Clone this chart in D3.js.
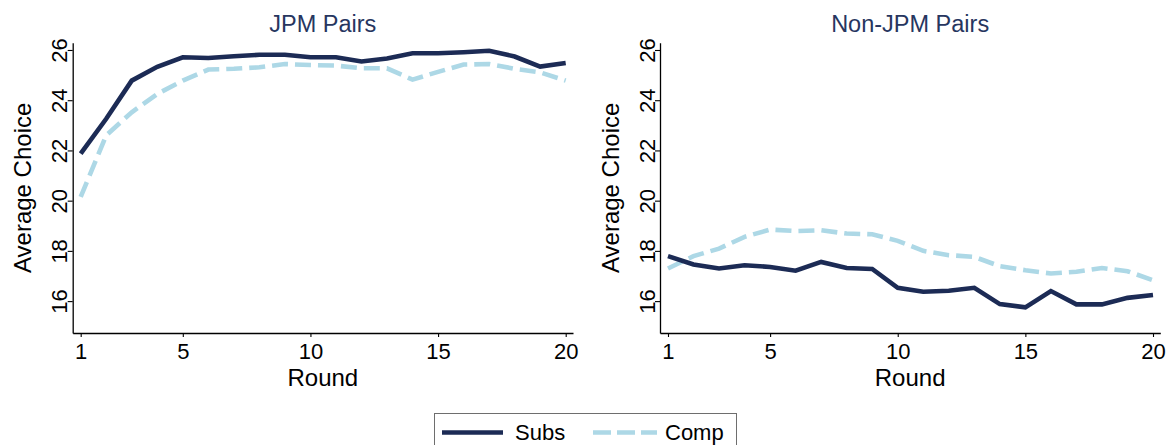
<!DOCTYPE html>
<html>
<head>
<meta charset="utf-8">
<script src="https://cdn.jsdelivr.net/npm/d3@7"></script>
<style>
  html, body { margin: 0; padding: 0; background: #fff; }
  svg { display: block; font-family: "Liberation Sans", Arial, sans-serif; }
</style>
</head>
<body>
<svg id="chart" width="1168" height="445"></svg>
<script>
const rounds = d3.range(1, 21);
const panelTitles = ["JPM Pairs", "Non-JPM Pairs"];
const seriesNames = ["Subs", "Comp"];
const xTicks = [1, 5, 10, 15, 20];
const yTicks = [16, 18, 20, 22, 24, 26];

const jpmSubs = [21.87, 23.26, 24.78, 25.33, 25.71, 25.68, 25.75, 25.81, 25.81, 25.71,
                 25.71, 25.54, 25.66, 25.87, 25.87, 25.91, 25.97, 25.74, 25.34, 25.48];
const jpmComp = [20.15, 22.60, 23.52, 24.25, 24.78, 25.22, 25.25, 25.31, 25.44, 25.40,
                 25.38, 25.27, 25.27, 24.82, 25.13, 25.42, 25.44, 25.25, 25.11, 24.78];
const nonSubs = [17.79, 17.46, 17.30, 17.43, 17.36, 17.21, 17.56, 17.32, 17.28, 16.53,
                 16.37, 16.41, 16.53, 15.88, 15.75, 16.40, 15.87, 15.87, 16.13, 16.24];
const nonComp = [17.30, 17.79, 18.09, 18.56, 18.85, 18.79, 18.82, 18.69, 18.66, 18.40,
                 18.00, 17.83, 17.76, 17.39, 17.23, 17.10, 17.17, 17.32, 17.19, 16.83];

const panels = [
  { title: panelTitles[0], subs: jpmSubs, comp: jpmComp, x0: 72.7 },
  { title: panelTitles[1], subs: nonSubs, comp: nonComp, x0: 660 }
];

const navy = "#1c2b55";
const light = "#add8e6";
const titleColor = "#27365f";
const lw = 4.6;
const dash = "16,7";
const tickFont = 22;

const svg = d3.select("#chart");
const plotW = 500.3, plotTop = 42.7, plotBottom = 333;

const y = d3.scaleLinear().domain([14.73, 26.29]).range([plotBottom, plotTop]);

panels.forEach(p => {
  const x = d3.scaleLinear().domain([0.687, 20.286]).range([p.x0, p.x0 + plotW]);
  const g = svg.append("g");

  // y axis
  const ya = g.append("g").attr("transform", `translate(${p.x0},0)`)
    .call(d3.axisLeft(y).tickValues(yTicks).tickSize(5).tickSizeOuter(0).tickFormat(d3.format("d")));
  ya.select(".domain").attr("stroke", "#000").attr("stroke-width", 1.3);
  ya.selectAll(".tick line").attr("stroke", "#000").attr("stroke-width", 1.1);
  ya.selectAll(".tick text")
    .attr("transform", "rotate(-90)")
    .attr("x", 0).attr("y", -5.5).attr("dy", 0)
    .attr("text-anchor", "middle")
    .attr("font-size", tickFont).attr("fill", "#000")
    .style("font-family", "'Liberation Sans', Arial, sans-serif");

  // x axis
  const xa = g.append("g").attr("transform", `translate(0,${plotBottom})`)
    .call(d3.axisBottom(x).tickValues(xTicks).tickSize(4).tickSizeOuter(0).tickFormat(d3.format("d")));
  xa.select(".domain").attr("stroke", "#000").attr("stroke-width", 1.3);
  xa.selectAll(".tick line").attr("stroke", "#000").attr("stroke-width", 1.1);
  xa.selectAll(".tick text")
    .attr("y", 25.5).attr("dy", 0)
    .attr("font-size", tickFont).attr("fill", "#000")
    .style("font-family", "'Liberation Sans', Arial, sans-serif");

  // axis titles
  g.append("text")
    .attr("transform", `translate(${p.x0 - 41.5},${(plotTop + plotBottom) / 2}) rotate(-90)`)
    .attr("text-anchor", "middle")
    .attr("font-size", 24).attr("fill", "#000")
    .text("Average Choice");
  g.append("text")
    .attr("x", p.x0 + plotW / 2).attr("y", 386)
    .attr("text-anchor", "middle")
    .attr("font-size", 24).attr("fill", "#000")
    .text("Round");

  // panel title
  g.append("text")
    .attr("x", p.x0 + plotW / 2).attr("y", 32)
    .attr("text-anchor", "middle")
    .attr("font-size", 23.5).attr("fill", titleColor)
    .text(p.title);

  const line = d3.line().x((d, i) => x(rounds[i])).y(d => y(d));

  g.append("path").datum(p.comp)
    .attr("d", line).attr("fill", "none")
    .attr("stroke", light).attr("stroke-width", lw)
    .attr("stroke-dasharray", dash);
  g.append("path").datum(p.subs)
    .attr("d", line).attr("fill", "none")
    .attr("stroke", navy).attr("stroke-width", lw);
});

// legend
const lg = svg.append("g");
lg.append("rect")
  .attr("x", 434.5).attr("y", 413.5).attr("width", 302).attr("height", 45)
  .attr("fill", "#fff").attr("stroke", "#6e6e6e").attr("stroke-width", 1);
const legItems = [
  { name: seriesNames[0], color: navy, dash: null, x1: 442, x2: 503, tx: 515 },
  { name: seriesNames[1], color: light, dash: "18,6", x1: 593, x2: 657, tx: 665 }
];
legItems.forEach(it => {
  lg.append("line")
    .attr("x1", it.x1).attr("x2", it.x2).attr("y1", 432.5).attr("y2", 432.5)
    .attr("stroke", it.color).attr("stroke-width", lw)
    .attr("stroke-dasharray", it.dash);
  lg.append("text")
    .attr("x", it.tx).attr("y", 440)
    .attr("font-size", 22).attr("fill", "#000")
    .text(it.name);
});
</script>
</body>
</html>
